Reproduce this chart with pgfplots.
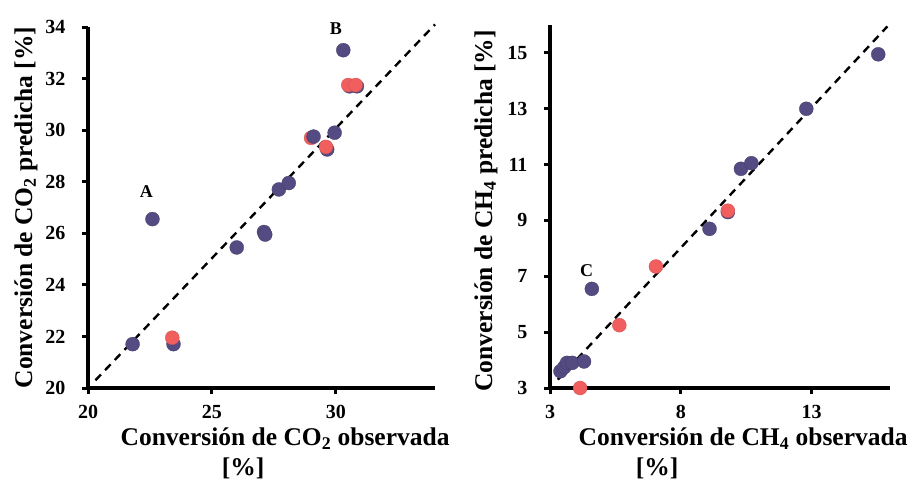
\documentclass[border=0pt]{standalone}
\usepackage{pgfplots}
\pgfplotsset{compat=1.18}
\usepackage{fontspec}
\setmainfont{Liberation Serif}
\definecolor{ptblue}{HTML}{544B82}
\definecolor{ptred}{HTML}{F05E5E}
\pgfplotsset{
  myaxis/.style={
    scale only axis, clip=false,
    axis x line=bottom, axis y line=left,
    axis line style={-, line width=3.6pt, black},
    tick align=outside, major tick length=6pt,
    every tick/.style={black, line width=3pt},
    tick label style={font=\fontsize{20}{20}\selectfont\bfseries},
    xticklabel style={yshift=-8pt},
    yticklabel style={xshift=-13pt},
    /pgf/number format/assume math mode=true,
    label style={font=\fontsize{25.5}{25.5}\selectfont\bfseries},
  },
  bpt/.style={only marks, mark=*, mark size=7pt, mark options={fill=ptblue, draw=ptblue!80!black, line width=0.3pt}},
  rpt/.style={only marks, mark=*, mark size=7pt, mark options={fill=ptred, draw=ptred!85!black, line width=0.3pt}},
}
\begin{document}
\begin{tikzpicture}[x=1pt,y=1pt]
\useasboundingbox (0,0) rectangle (912,483);
% ---------- left panel ----------
\begin{axis}[myaxis,
  at={(88pt,95pt)}, anchor=origin, width=347pt, height=361pt,
  xmin=20, xmax=34, ymin=20, ymax=34,
  xtick={20,25,30}, ytick={20,22,...,34},
  ylabel={Conversión de CO\textsubscript{2} predicha [\%]},
  ylabel style={at={(axis description cs:-0.179,0.5)}, anchor=center},
  xlabel={Conversión de CO\textsubscript{2} observada},
  xlabel style={at={(axis description cs:0.568,-0.14)}, anchor=center},
]
\addplot[black, line width=2.4pt, dash pattern=on 8pt off 6pt] coordinates {(20.3,20.3) (34,34.1)};
\addplot[rpt] coordinates {(29.0,29.7)};
\addplot[bpt] coordinates {
(21.8,21.7) (22.6,26.55) (23.45,21.7) (26.0,25.45) (27.1,26.05) (27.15,25.95)
(27.7,27.7) (28.1,27.95) (29.1,29.75) (29.65,29.25) (29.95,29.9) (30.3,33.1)
(30.55,31.7) (30.85,31.7)};
\addplot[rpt] coordinates {(23.4,21.95) (29.6,29.35) (30.5,31.75) (30.8,31.75)};
\node[font=\fontsize{18}{18}\selectfont\bfseries] at (axis cs:22.36,27.6) {A};
\node[font=\fontsize{18}{18}\selectfont\bfseries] at (axis cs:30.0,33.95) {B};
\node[font=\fontsize{25.5}{25.5}\selectfont\bfseries] at (axis description cs:0.447,-0.222) {[\%]};
\end{axis}
% ---------- right panel ----------
\begin{axis}[myaxis,
  at={(550pt,95pt)}, anchor=origin, width=340pt, height=363pt,
  xmin=3, xmax=16, ymin=3, ymax=16,
  xtick={3,8,13}, ytick={3,5,...,15},
  ylabel={Conversión de CH\textsubscript{4} predicha [\%]},
  ylabel style={at={(axis description cs:-0.188,0.488)}, anchor=center},
  xlabel={Conversión de CH\textsubscript{4} observada},
  xlabel style={at={(axis description cs:0.568,-0.139)}, anchor=center},
]
\addplot[black, line width=2.4pt, dash pattern=on 8pt off 6pt] coordinates {(3.3,3.3) (15.9,15.95)};
\addplot[bpt] coordinates {
(3.4,3.6) (3.55,3.75) (3.65,3.9) (3.85,3.9) (4.3,3.95) (4.6,6.55)
(9.1,8.7) (9.8,9.3) (10.3,10.85) (10.7,11.05) (12.8,13.0) (15.55,14.95)};
\addplot[rpt] coordinates {(4.15,3.0) (5.65,5.25) (7.05,7.35) (9.8,9.35)};
\node[font=\fontsize{18}{18}\selectfont\bfseries] at (axis cs:4.4,7.2) {C};
\node[font=\fontsize{25.5}{25.5}\selectfont\bfseries] at (axis description cs:0.315,-0.22) {[\%]};
\end{axis}
\end{tikzpicture}
\end{document}
